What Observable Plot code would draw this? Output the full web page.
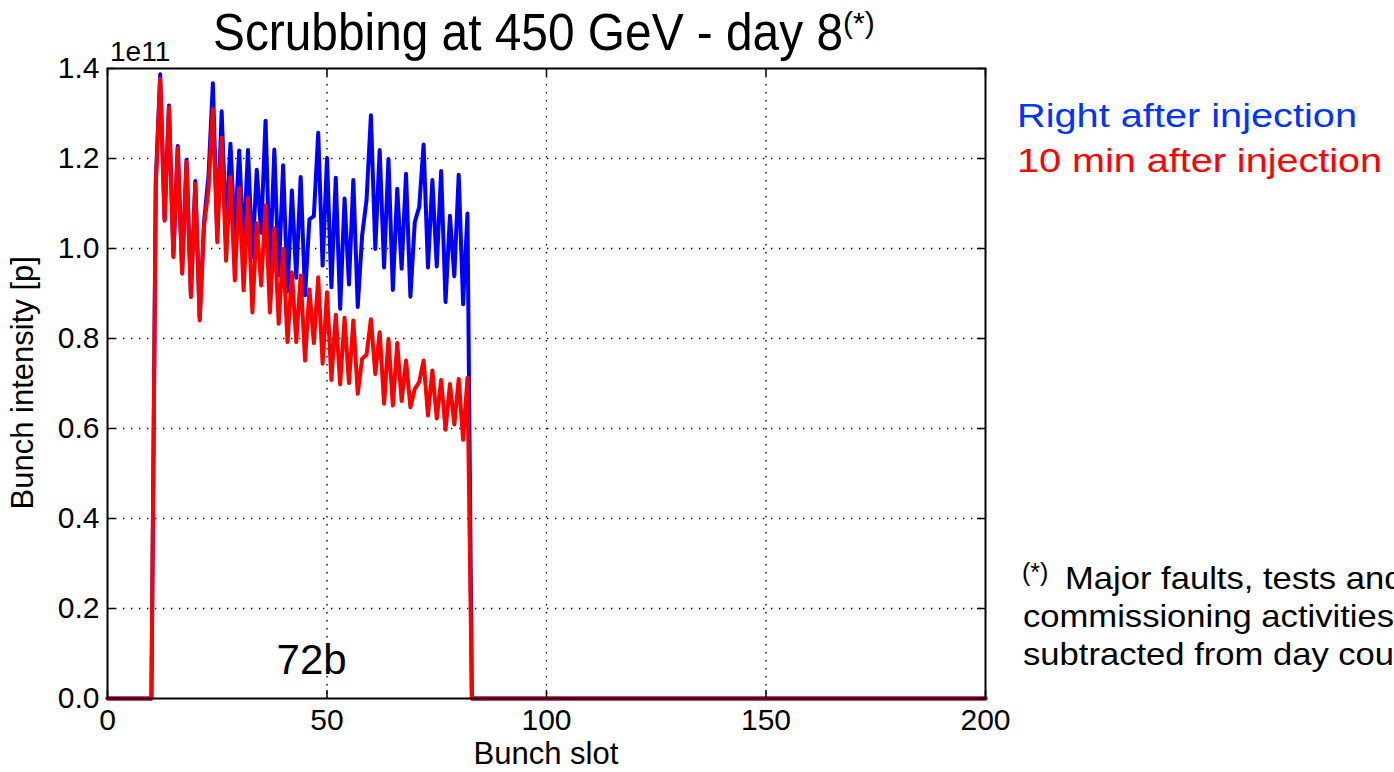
<!DOCTYPE html>
<html><head><meta charset="utf-8">
<script src="https://cdn.jsdelivr.net/npm/d3@7"></script>
<script src="https://cdn.jsdelivr.net/npm/@observablehq/plot@0.6"></script>
<style>
html,body{margin:0;padding:0;background:#fff;overflow:hidden;}
#wrap{position:relative;width:1394px;height:772px;overflow:hidden;font-family:"Liberation Sans",Arial,sans-serif;}
.t{position:absolute;white-space:nowrap;line-height:0;transform-origin:0 0;}
</style></head><body><div id="wrap"></div>
<script>
// ---- data (intensity in units of 1e11 protons) ----
const firstSlot = 11;          // first filled bunch slot
const emptySlots = [0, 10, 83, 200]; // empty slots bounding the train (intensity 0)
const blueValues = [1.15,1.387,1.065,1.318,0.985,1.228,0.948,1.197,0.896,1.15,
  0.845,1.06,1.16,1.367,1.03,1.305,1.04,1.233,1.03,1.218,
  1.0,1.219,0.98,1.175,1.035,1.284,0.95,1.22,0.94,1.185,
  0.905,1.129,0.935,1.159,0.896,1.065,1.072,1.257,0.962,1.201,
  0.914,1.157,0.866,1.111,0.92,1.152,0.87,1.029,1.107,1.296,
  0.999,1.219,0.958,1.199,0.908,1.133,0.955,1.166,0.893,1.059,
  1.092,1.231,0.958,1.152,0.96,1.172,0.881,1.073,0.938,1.164,
  0.876,1.078];
const redValues = [1.14,1.377,1.062,1.314,0.981,1.223,0.944,1.192,0.892,1.144,
  0.84,1.051,1.13,1.31,1.014,1.246,0.973,1.159,0.929,1.134,
  0.907,1.112,0.858,1.056,0.918,1.096,0.858,1.045,0.833,0.999,
  0.792,0.947,0.792,0.94,0.751,0.909,0.79,0.936,0.744,0.903,
  0.708,0.853,0.698,0.846,0.701,0.84,0.677,0.755,0.764,0.843,
  0.721,0.814,0.655,0.799,0.651,0.79,0.661,0.751,0.647,0.688,
  0.703,0.751,0.629,0.729,0.622,0.708,0.597,0.699,0.609,0.71,
  0.575,0.713];
const seriesNames = ["Right after injection", "10 min after injection"];
const seriesColors = ["#0000ff", "#ff0000"];
const xTicks = [0, 50, 100, 150, 200];
const yTicks = [0.0, 0.2, 0.4, 0.6, 0.8, 1.0, 1.2, 1.4];
const annotations = [{slot: 46.5, value: 0.085, label: "72b"}];
const titleText = "Scrubbing at 450 GeV - day 8";
const footnoteLines = ["Major faults, tests and", "commissioning activities", "subtracted from day count"];

function rows(values, name) {
  const filled = values.map((v, i) => ({slot: firstSlot + i, value: v, series: name}));
  const empty = emptySlots.map(s => ({slot: s, value: 0, series: name}));
  return [...empty, ...filled].sort((a, b) => a.slot - b.slot);
}
const blueRows = rows(blueValues, seriesNames[0]);
const redRows = rows(redValues, seriesNames[1]);

// ---- layout ----
const W = 1394, H = 772, mL = 107, mR = 409, mT = 68, mB = 74;
const plotW = W - mL - mR, plotH = H - mT - mB, tick = 8;
const font = "Liberation Sans, Arial, sans-serif";
const dots = {stroke: "#000", strokeOpacity: 1, strokeWidth: 1.4, strokeDasharray: "1.4,6.6"};

const chart = Plot.plot({
  width: W, height: H, marginLeft: mL, marginRight: mR, marginTop: mT, marginBottom: mB,
  style: {fontFamily: font, fontSize: "30px", color: "#000", background: "transparent", overflow: "visible"},
  x: {domain: [0, 200]},
  y: {domain: [0, 1.4]},
  color: {domain: seriesNames, range: seriesColors},
  marks: [
    Plot.gridX(xTicks.slice(1, -1), dots),
    Plot.gridY(yTicks.slice(1, -1), dots),
    Plot.line(blueRows, {x: "slot", y: "value", stroke: "series", strokeWidth: 4, strokeLinejoin: "round"}),
    Plot.line(redRows, {x: "slot", y: "value", stroke: "series", strokeWidth: 4, strokeLinejoin: "round"}),
    Plot.text(annotations, {x: "slot", y: "value", text: "label", fontSize: 42, fill: "#000"}),
    Plot.ruleX(xTicks, {insetTop: plotH - tick, stroke: "#000", strokeWidth: 1.5}),
    Plot.ruleX(xTicks, {insetBottom: plotH - tick, stroke: "#000", strokeWidth: 1.5}),
    Plot.ruleY(yTicks, {insetRight: plotW - tick, stroke: "#000", strokeWidth: 1.5}),
    Plot.ruleY(yTicks, {insetLeft: plotW - tick, stroke: "#000", strokeWidth: 1.5}),
    Plot.axisX(xTicks, {tickSize: 0, tickPadding: 10, label: null, fontSize: 30}),
    Plot.axisY(yTicks, {tickSize: 0, tickPadding: 8, label: null, fontSize: 30, tickFormat: d3.format(".1f")}),
    Plot.frame({stroke: "#000", strokeWidth: 2})
  ]
});
const wrap = document.getElementById("wrap");
wrap.appendChild(chart);

// ---- text helpers (baseline positioning; Liberation Sans ascent .905, descent .212) ----
// For rotated text: x = baseline x, base = vertical centre.
function addText(str, {x, base, size, color = "#000", width = null, scale = null, anchor = "start", rotate = false}) {
  const el = document.createElement("div");
  el.className = "t";
  el.textContent = str;
  el.style.fontSize = size + "px";
  el.style.color = color;
  wrap.appendChild(el);
  const w = el.getBoundingClientRect().width;
  const s = scale != null ? scale : (width ? width / w : 1);
  const off = 0.3465 * size;
  if (rotate) {
    el.style.left = (x - w / 2) + "px";
    el.style.top = (base - off) + "px";
    el.style.transformOrigin = `${w / 2}px ${off}px`;
    el.style.transform = `rotate(-90deg) scaleX(${s})`;
  } else {
    const left = anchor === "middle" ? x - w * s / 2 : anchor === "end" ? x - w * s : x;
    el.style.left = left + "px";
    el.style.top = (base - off) + "px";
    el.style.transform = `scaleX(${s})`;
  }
  return s;
}

addText(titleText, {x: 213, base: 51, size: 51, width: 630});
addText("(*)", {x: 843, base: 33, size: 30});
addText("1e11", {x: 110, base: 62, size: 28});
addText("Bunch slot", {x: 546, base: 765, size: 31, anchor: "middle"});
addText("Bunch intensity [p]", {x: 34, base: 383, size: 31, rotate: true});
addText(seriesNames[0], {x: 1017, base: 127, size: 33, width: 340, color: "#0033ff"});
addText(seriesNames[1], {x: 1017, base: 172, size: 33, width: 365, color: seriesColors[1]});
addText("(*)", {x: 1022, base: 581, size: 25});
const fs = addText(footnoteLines[1], {x: 1023, base: 627, size: 32, width: 371});
addText(footnoteLines[0], {x: 1065, base: 589, size: 32, scale: fs});
addText(footnoteLines[2], {x: 1023, base: 665, size: 32, scale: fs});
</script></body></html>
